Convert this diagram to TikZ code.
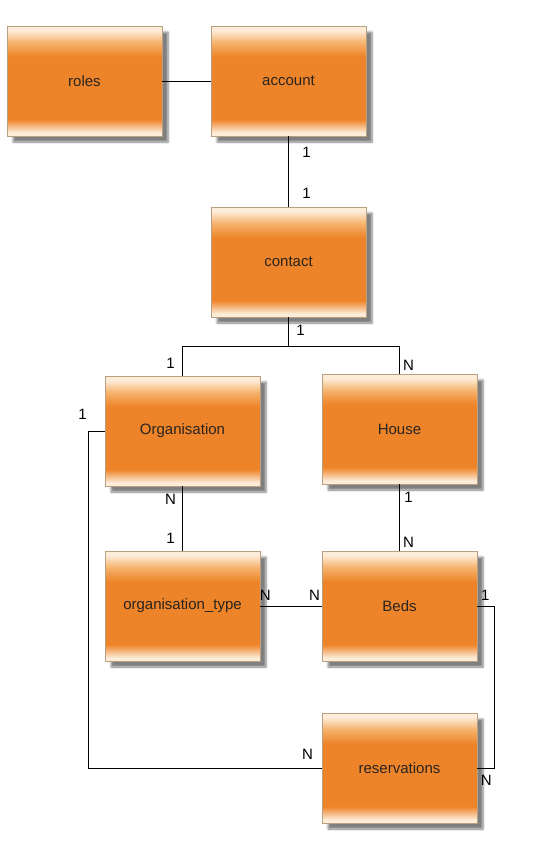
\documentclass[tikz,border=0pt]{standalone}
\usepackage{fontspec}
\setmainfont{Liberation Sans}
\usetikzlibrary{positioning, shadows.blur}

\definecolor{boxorange}{RGB}{238,132,41}
\definecolor{boxlight}{RGB}{253,236,216}
\definecolor{boxmid}{RGB}{245,178,108}
\definecolor{boxedge}{RGB}{185,160,130}
\definecolor{boxtext}{RGB}{40,36,32}

\pgfdeclareverticalshading{boxshade}{100bp}{color(0bp)=(boxlight); color(25bp)=(boxlight);
  color(26.5bp)=(boxlight); color(32.5bp)=(boxorange); color(61bp)=(boxorange);
  color(67.5bp)=(boxmid); color(73bp)=(boxlight); color(75bp)=(boxlight); color(100bp)=(boxlight)}

\tikzset{
    entity/.style={shape=rectangle, draw=boxedge, line width=0.8pt, shading=boxshade,
        minimum width=155pt, minimum height=110pt, text=boxtext,
        font=\fontsize{15}{18}\selectfont,
        blur shadow={shadow xshift=6pt, shadow yshift=-6pt, shadow blur steps=6, shadow opacity=50}},
    card/.style={font=\fontsize{15}{18}\selectfont, inner sep=0pt, text=black},
    link/.style={draw=black, line width=1pt}
}

\begin{document}
\begin{tikzpicture}[x=1pt, y=-1pt]
    \useasboundingbox (0,0) rectangle (546,854);
    \path (84.5,81) node [entity] (roles) {roles}
        (288.5,81) node [entity] (account) {account}
        (288.5,262) node [entity] (contact) {contact}
        (182.5,431) node [entity] (org) {Organisation}
        (399.5,429) node [entity] (house) {House}
        (182.5,606) node [entity] (orgtype) {organisation\_type}
        (399.5,606) node [entity] (beds) {Beds}
        (399.5,768) node [entity] (res) {reservations};
    \coordinate (bus) at (288.5,346);

    % relationships
    \draw [link] (roles) -- (account);
    \draw [link] (account) -- (contact)
        node [card, pos=0, xshift=18pt, yshift=-16pt] (c1) {1}
        node [card, pos=1, xshift=18pt, yshift=13pt] (c2) {1};
    \draw [link] (contact.south) -- (bus)
        node [card, pos=0, xshift=12pt, yshift=-13pt] (c3) {1};
    \draw [link] (bus) -| (org.north)
        node [card, pos=1, xshift=-12pt, yshift=12pt] (c4) {1};
    \draw [link] (bus) -| (house.north)
        node [card, pos=1, xshift=9pt, yshift=8pt] (c5) {N};
    \draw [link] (org.west) -- ++(-16,0) |- (res.west)
        node [card, pos=0, xshift=-6pt, yshift=17pt] (c6) {1}
        node [card, pos=1, xshift=-14pt, yshift=14pt] (c7) {N};
    \draw [link] (org) -- (orgtype)
        node [card, pos=0, xshift=-12pt, yshift=-13pt] (c8) {N}
        node [card, pos=1, xshift=-12pt, yshift=12pt] (c9) {1};
    \draw [link] (house) -- (beds)
        node [card, pos=0, xshift=9pt, yshift=-13pt] (c10) {1}
        node [card, pos=1, xshift=9pt, yshift=8pt] (c11) {N};
    \draw [link] (orgtype) -- (beds)
        node [card, pos=0, xshift=5pt, yshift=11pt] (c12) {N}
        node [card, pos=1, xshift=-7pt, yshift=11pt] (c13) {N};
    \draw [link] (beds.east) -- ++(17,0) |- (res.east)
        node [card, pos=0, xshift=-9pt, yshift=11pt] (c14) {1}
        node [card, pos=1, xshift=9pt, yshift=-12pt] (c15) {N};
\end{tikzpicture}
\end{document}
